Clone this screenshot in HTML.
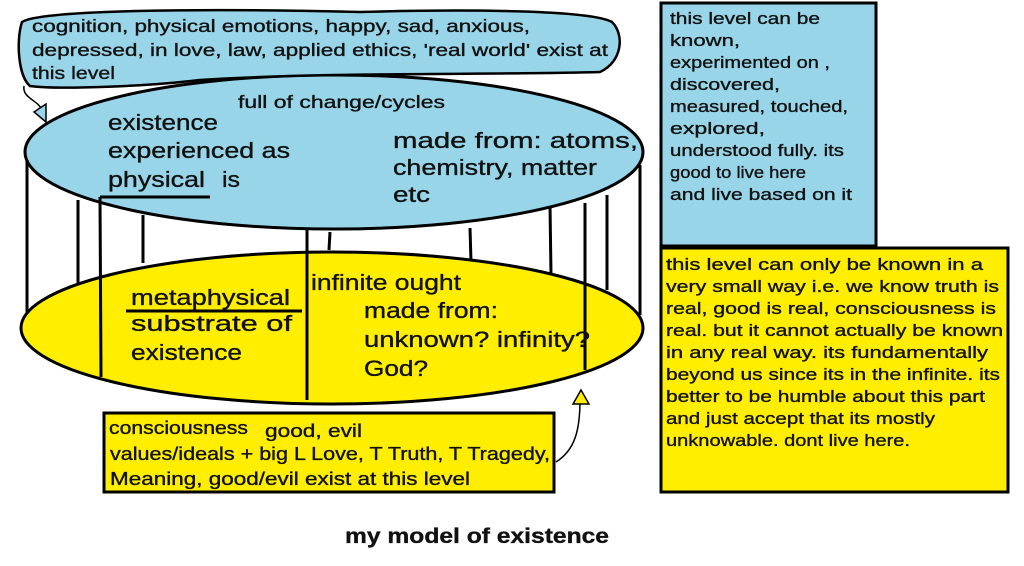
<!DOCTYPE html>
<html><head><meta charset="utf-8"><style>
html,body{margin:0;padding:0;background:#fff;width:1024px;height:566px;overflow:hidden}
svg{display:block}
text{font-family:"Liberation Sans",sans-serif;fill:#111;stroke:#111;stroke-width:0.35}
</style></head><body>
<svg width="1024" height="566" viewBox="0 0 1024 566" xmlns="http://www.w3.org/2000/svg">
<g stroke="#000" stroke-width="3" fill="none">
<line x1="27" y1="160" x2="27" y2="315"/>
<line x1="640" y1="165" x2="640" y2="315"/>
<line x1="78" y1="200" x2="78" y2="283"/>
<line x1="143" y1="215" x2="143" y2="263"/>
<line x1="330" y1="232" x2="329" y2="250"/>
<line x1="470" y1="228" x2="471" y2="262"/>
<line x1="550" y1="205" x2="551" y2="275"/>
<line x1="607" y1="195" x2="607" y2="290"/>
</g>
<ellipse cx="332" cy="328" rx="311" ry="76" fill="#ffee00" stroke="#000" stroke-width="3"/>
<ellipse cx="334" cy="152" rx="309" ry="77" fill="#99d5e8" stroke="#000" stroke-width="3"/>
<g stroke="#000" stroke-width="3" fill="none">
<line x1="100" y1="197" x2="210" y2="197"/>
<line x1="100" y1="197" x2="101" y2="377"/>
<line x1="307" y1="228" x2="307" y2="400"/>
<line x1="585" y1="203" x2="585" y2="370"/>
<line x1="126" y1="311" x2="302" y2="311"/>
</g>
<path d="M22,22 C40,10 200,8 360,12 C470,9 590,10 612,22 C625,35 622,62 600,72 C500,75 320,72 200,80 C150,86 60,90 30,86 C18,76 16,40 22,22 Z" fill="#99d5e8" stroke="#000" stroke-width="2.5"/>
<path d="M24,86 C22,98 38,100 42,110" fill="none" stroke="#000" stroke-width="1.5"/>
<polygon points="34,112 46,104 46,122" fill="#99d5e8" stroke="#000" stroke-width="1.5"/>
<g font-size="17.5">
<text x="32" y="32" textLength="498" lengthAdjust="spacingAndGlyphs">cognition, physical emotions, happy, sad, anxious,</text>
<text x="32" y="56" textLength="576" lengthAdjust="spacingAndGlyphs">depressed, in love, law, applied ethics, 'real world' exist at</text>
<text x="32" y="79" textLength="83" lengthAdjust="spacingAndGlyphs">this level</text>
<text x="238" y="108" textLength="207" lengthAdjust="spacingAndGlyphs">full of change/cycles</text>
</g>
<g font-size="22">
<text x="108" y="130" textLength="110" lengthAdjust="spacingAndGlyphs">existence</text>
<text x="108" y="158" textLength="182" lengthAdjust="spacingAndGlyphs">experienced as</text>
<text x="108" y="187" textLength="97" lengthAdjust="spacingAndGlyphs">physical</text><text x="222" y="187" textLength="18" lengthAdjust="spacingAndGlyphs">is</text>
<text x="393" y="148" textLength="245" lengthAdjust="spacingAndGlyphs">made from: atoms,</text>
<text x="393" y="175" textLength="204" lengthAdjust="spacingAndGlyphs">chemistry, matter</text>
<text x="393" y="202" textLength="37" lengthAdjust="spacingAndGlyphs">etc</text>
<text x="131" y="305" textLength="159" lengthAdjust="spacingAndGlyphs">metaphysical</text>
<text x="131" y="331" textLength="161" lengthAdjust="spacingAndGlyphs">substrate of</text>
<text x="131" y="360" textLength="111" lengthAdjust="spacingAndGlyphs">existence</text>
<text x="311" y="290" textLength="150" lengthAdjust="spacingAndGlyphs">infinite ought</text>
<text x="364" y="318" textLength="134" lengthAdjust="spacingAndGlyphs">made from:</text>
<text x="364" y="347" textLength="226" lengthAdjust="spacingAndGlyphs">unknown? infinity?</text>
<text x="364" y="376" textLength="64" lengthAdjust="spacingAndGlyphs">God?</text>
</g>
<rect x="104" y="413" width="450" height="79" fill="#ffee00" stroke="#000" stroke-width="3"/>
<g font-size="18">
<text x="109" y="434" textLength="139" lengthAdjust="spacingAndGlyphs">consciousness</text><text x="265" y="437" textLength="97" lengthAdjust="spacingAndGlyphs">good, evil</text>
<text x="110" y="460" textLength="440" lengthAdjust="spacingAndGlyphs">values/ideals + big L Love, T Truth, T Tragedy,</text>
<text x="110" y="485" textLength="360" lengthAdjust="spacingAndGlyphs">Meaning, good/evil exist at this level</text>
</g>
<path d="M556,462 C575,450 580,430 580,400" fill="none" stroke="#000" stroke-width="1.5"/>
<polygon points="581,390 573,404 589,404" fill="#ffee00" stroke="#000" stroke-width="1.5"/>
<rect x="661" y="3" width="215" height="243" fill="#99d5e8" stroke="#000" stroke-width="3"/>
<g font-size="17">
<text x="670" y="24" textLength="150" lengthAdjust="spacingAndGlyphs">this level can be</text>
<text x="670" y="46" textLength="70" lengthAdjust="spacingAndGlyphs">known,</text>
<text x="670" y="68" textLength="160" lengthAdjust="spacingAndGlyphs">experimented on ,</text>
<text x="670" y="90" textLength="110" lengthAdjust="spacingAndGlyphs">discovered,</text>
<text x="670" y="112" textLength="178" lengthAdjust="spacingAndGlyphs">measured, touched,</text>
<text x="670" y="134" textLength="95" lengthAdjust="spacingAndGlyphs">explored,</text>
<text x="670" y="156" textLength="174" lengthAdjust="spacingAndGlyphs">understood fully. its</text>
<text x="670" y="178" textLength="136" lengthAdjust="spacingAndGlyphs">good to live here</text>
<text x="670" y="200" textLength="182" lengthAdjust="spacingAndGlyphs">and live based on it</text>
</g>
<rect x="661" y="248" width="347" height="244" fill="#ffee00" stroke="#000" stroke-width="3"/>
<g font-size="17">
<text x="666" y="270" textLength="317" lengthAdjust="spacingAndGlyphs">this level can only be known in a</text>
<text x="666" y="292" textLength="333" lengthAdjust="spacingAndGlyphs">very small way i.e. we know truth is</text>
<text x="666" y="314" textLength="330" lengthAdjust="spacingAndGlyphs">real, good is real, consciousness is</text>
<text x="666" y="336" textLength="337" lengthAdjust="spacingAndGlyphs">real. but it cannot actually be known</text>
<text x="666" y="358" textLength="322" lengthAdjust="spacingAndGlyphs">in any real way. its fundamentally</text>
<text x="666" y="380" textLength="334" lengthAdjust="spacingAndGlyphs">beyond us since its in the infinite. its</text>
<text x="666" y="402" textLength="319" lengthAdjust="spacingAndGlyphs">better to be humble about this part</text>
<text x="666" y="424" textLength="269" lengthAdjust="spacingAndGlyphs">and just accept that its mostly</text>
<text x="666" y="446" textLength="244" lengthAdjust="spacingAndGlyphs">unknowable. dont live here.</text>
</g>
<text x="345" y="543" font-size="21" font-weight="bold" textLength="264" lengthAdjust="spacingAndGlyphs">my model of existence</text>
</svg>
</body></html>
